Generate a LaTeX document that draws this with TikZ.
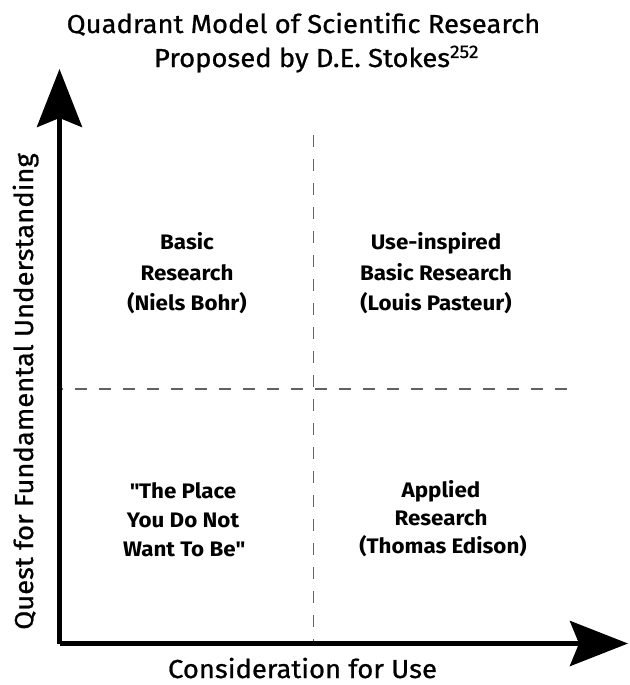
\documentclass[tikz,border=0pt]{standalone}
\usepackage{fontspec}
\setmainfont{Fira Sans}
\newfontfamily\lblfont{Fira Sans}[FakeStretch=1.055, FakeBold=0.8]
\newfontfamily\quadfont{Fira Sans Bold}[FakeStretch=1.065]
\usetikzlibrary{arrows.meta}
\tikzset{
  axisline/.style={line width=5pt, -{Stealth[length=58pt, width=45pt, inset=9pt]}},
  divider/.style={draw=black!62, line width=1.4pt, dash pattern=on 12pt off 12pt},
  quad/.style={anchor=base, inner sep=0pt, font=\quadfont\fontsize{21}{30}\selectfont},
  titletext/.style={anchor=base, inner sep=0pt, font=\lblfont\fontsize{26}{38}\selectfont},
  axislabel/.style={anchor=base, inner sep=0pt, font=\lblfont\fontsize{26}{30}\selectfont}
}
\begin{document}
\begin{tikzpicture}[x=1pt, y=-1pt]
\useasboundingbox (0,0) rectangle (629,685);
\coordinate (origin) at (59.5,643.5);
\coordinate (ytip) at (59.5,69);
\coordinate (xtip) at (628,643.5);
\coordinate (vtop) at (313.5,135);
\coordinate (vbot) at (313.5,643.5);
\coordinate (hright) at (567,389);
\coordinate (hleft) at (60,389);
\draw[divider] (vtop) -- (vbot);
\draw[divider] (hright) -- (hleft);
\draw[axisline] (origin) -- (ytip);
\draw[axisline] (origin) -- (xtip);
\node[titletext] (t1) at (303.5,33) {Quadrant Model of Scientific Research};
\node[titletext] (t2) at (316.5,67) {Proposed by D.E. Stokes\textsuperscript{252}};
\node[quad] (q1a) at (187,249) {Basic};
\node[quad] (q1b) at (187,280) {Research};
\node[quad] (q1c) at (187,310) {(Niels Bohr)};
\node[quad] (q2a) at (436,249) {Use-inspired};
\node[quad] (q2b) at (436,280) {Basic Research};
\node[quad] (q2c) at (436,310) {(Louis Pasteur)};
\node[quad] (q3a) at (183,498) {\textquotedbl The Place};
\node[quad] (q3b) at (183,527) {You Do Not};
\node[quad] (q3c) at (184,556) {Want To Be\textquotedbl};
\node[quad] (q4a) at (441,497) {Applied};
\node[quad] (q4b) at (441,525) {Research};
\node[quad] (q4c) at (443,553) {(Thomas Edison)};
\node[axislabel, rotate=90] (ylab) at (33,391.5) {Quest for Fundamental Understanding};
\node[axislabel] (xlab) at (302.5,678) {Consideration for Use};
\end{tikzpicture}
\end{document}
